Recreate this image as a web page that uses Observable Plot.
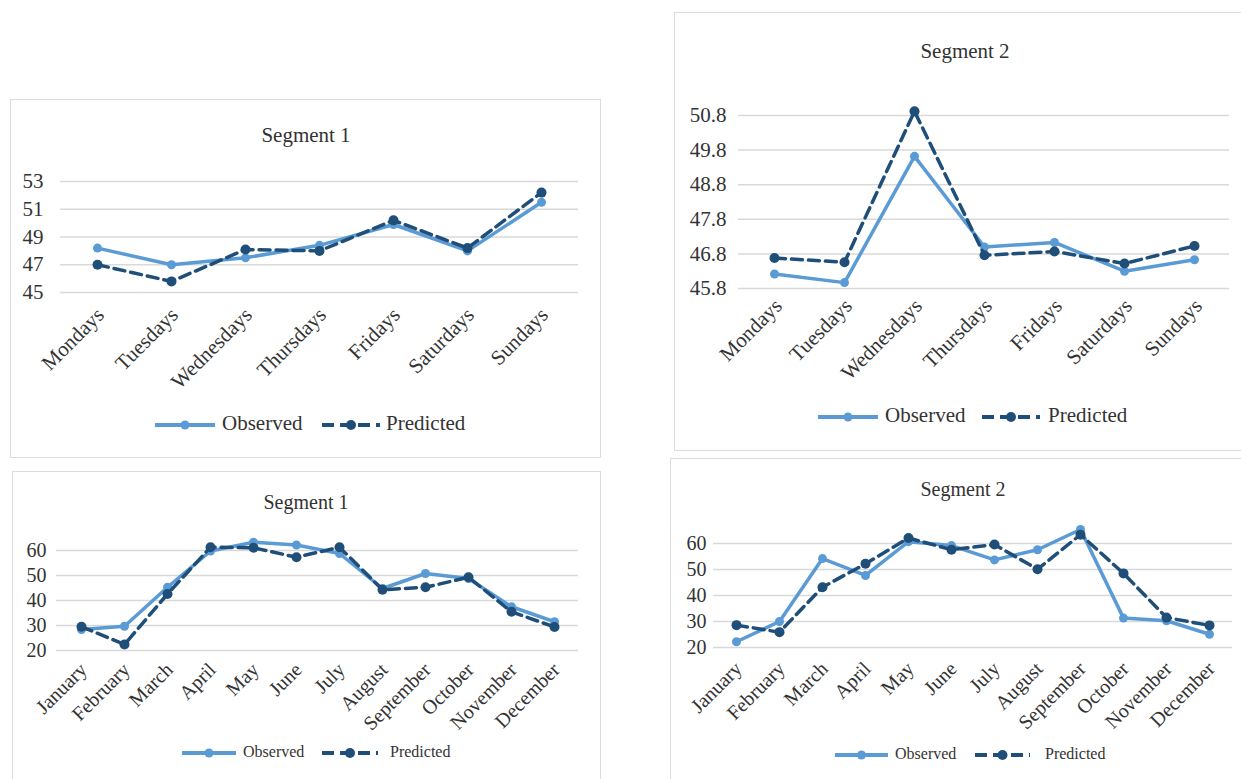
<!DOCTYPE html>
<html><head><meta charset="utf-8">
<script src="https://cdn.jsdelivr.net/npm/d3@7"></script>
<script src="https://cdn.jsdelivr.net/npm/@observablehq/plot@0.6"></script>
<style>
body{margin:0;background:#fff;}
#root{position:relative;width:1241px;height:779px;overflow:hidden;background:#fff;font-family:"Liberation Serif","Times New Roman",serif;color:#333;}
.panel{position:absolute;border:1.5px solid #dcdcdc;box-sizing:border-box;}
.title{position:absolute;text-align:center;line-height:1;white-space:nowrap;}
.plot{position:absolute;}
.lg{position:absolute;line-height:1;white-space:nowrap;}
</style></head><body><div id="root"></div>
<script>
// ---- data ----
const days = ["Mondays","Tuesdays","Wednesdays","Thursdays","Fridays","Saturdays","Sundays"];
const months = ["January","February","March","April","May","June","July","August","September","October","November","December"];

const seg1DaysObserved  = [48.2, 47.0, 47.5, 48.4, 49.9, 48.0, 51.5];
const seg1DaysPredicted = [47.0, 45.8, 48.1, 48.0, 50.2, 48.2, 52.2];
const seg1DaysTicks = [45, 47, 49, 51, 53];

const seg2DaysObserved  = [46.22, 45.97, 49.62, 47.0, 47.13, 46.3, 46.63];
const seg2DaysPredicted = [46.68, 46.56, 50.92, 46.76, 46.87, 46.52, 47.03];
const seg2DaysTicks = [45.8, 46.8, 47.8, 48.8, 49.8, 50.8];

const seg1MonthsObserved  = [28.4, 29.7, 45.3, 59.8, 63.3, 62.2, 58.8, 44.8, 50.8, 48.8, 37.5, 31.5];
const seg1MonthsPredicted = [29.5, 22.4, 42.6, 61.3, 61.1, 57.3, 61.3, 44.3, 45.3, 49.3, 35.5, 29.4];
const seg1MonthsTicks = [20, 30, 40, 50, 60];

const seg2MonthsObserved  = [22.2, 30.0, 54.2, 47.7, 60.7, 59.2, 53.7, 57.6, 65.4, 31.3, 30.3, 25.1];
const seg2MonthsPredicted = [28.6, 25.9, 43.2, 52.2, 62.1, 57.6, 59.6, 50.1, 63.4, 48.5, 31.5, 28.5];
const seg2MonthsTicks = [20, 30, 40, 50, 60];

const seriesNames = ["Observed", "Predicted"];
const titles = ["Segment 1", "Segment 2", "Segment 1", "Segment 2"];

// ---- styles ----
const OBS = "#5b9bd5", PRED = "#1f4e79", GRID = "#d9d9d9";
const DASH = "11,6";

const root = document.getElementById("root");

function el(tag, cls, css, text){
  const e = document.createElement(tag);
  if (cls) e.className = cls;
  Object.assign(e.style, css || {});
  if (text != null) e.textContent = text;
  root.appendChild(e);
  return e;
}

function legendSample(x1, x2, cy, color, dashed, r){
  const w = x2 - x1, h = 16;
  const ns = "http://www.w3.org/2000/svg";
  const s = document.createElementNS(ns, "svg");
  s.setAttribute("width", w); s.setAttribute("height", h);
  Object.assign(s.style, {position:"absolute", left:x1+"px", top:(cy-h/2)+"px"});
  const ln = document.createElementNS(ns, "line");
  ln.setAttribute("x1", 0); ln.setAttribute("x2", w);
  ln.setAttribute("y1", h/2); ln.setAttribute("y2", h/2);
  ln.setAttribute("stroke", color); ln.setAttribute("stroke-width", 4);
  if (dashed) ln.setAttribute("stroke-dasharray", "12,6");
  s.appendChild(ln);
  const c = document.createElementNS(ns, "circle");
  c.setAttribute("cx", w/2); c.setAttribute("cy", h/2); c.setAttribute("r", r);
  c.setAttribute("fill", color);
  s.appendChild(c);
  root.appendChild(s);
}

function panel(cfg){
  const {box, title, svg, cats, obs, pred, domain, ticks, fmt, lg} = cfg;
  el("div", "panel", {left:box.x+"px", top:box.y+"px", width:box.w+"px", height:box.h+"px"});
  el("div", "title", {left:(title.cx-150)+"px", width:"300px", top:(title.cy-title.size*0.55)+"px", fontSize:title.size+"px"}, title.text);

  const obsData = cats.map((c,i)=>({cat:c, v:obs[i]}));
  const predData = cats.map((c,i)=>({cat:c, v:pred[i]}));

  const chart = Plot.plot({
    width: svg.w, height: svg.h,
    marginLeft: svg.ml, marginRight: svg.mr, marginTop: svg.mt, marginBottom: svg.mb,
    style: {fontFamily: '"Liberation Serif","Times New Roman",serif', fontSize: svg.font+"px", color:"#333", background:"transparent", overflow:"visible"},
    x: {type:"point", domain: cats, padding: 0.5, label: null},
    y: {domain: domain, label: null},
    marks: [
      Plot.gridY({ticks: ticks, stroke: GRID, strokeOpacity: 1, strokeWidth: 1.5}),
      Plot.axisY({ticks: ticks, tickSize: 0, tickPadding: svg.yPad, tickFormat: fmt, label: null, fontSize: svg.font}),
      Plot.axisX({tickSize: 0, tickRotate: -45, tickPadding: svg.xPad, dx: svg.xDx || 0, label: null, fontSize: svg.xFont || svg.font}),
      Plot.line(obsData, {x:"cat", y:"v", stroke: OBS, strokeWidth: 3.5}),
      Plot.dot(obsData, {x:"cat", y:"v", r: 4.5, fill: OBS}),
      Plot.line(predData, {x:"cat", y:"v", stroke: PRED, strokeWidth: 3.5, strokeDasharray: DASH}),
      Plot.dot(predData, {x:"cat", y:"v", r: 5, fill: PRED})
    ]
  });
  chart.classList.add("plot");
  Object.assign(chart.style, {left: svg.x+"px", top: svg.y+"px"});
  root.appendChild(chart);

  legendSample(lg.obsLine[0], lg.obsLine[1], lg.y, OBS, false, 4.5);
  legendSample(lg.predLine[0], lg.predLine[1], lg.y, PRED, true, 5);
  el("div", "lg", {left: lg.obsText+"px", top:(lg.y - lg.font*0.55)+"px", fontSize: lg.font+"px"}, seriesNames[0]);
  el("div", "lg", {left: lg.predText+"px", top:(lg.y - lg.font*0.55)+"px", fontSize: lg.font+"px"}, seriesNames[1]);
}

panel({
  box:{x:10, y:99, w:591, h:359},
  title:{text:titles[0], cx:306, cy:137, size:21},
  svg:{x:10, y:160, w:591, h:250, ml:50, mr:23, mt:21, mb:118, font:21, yPad:17, xPad:19, xDx:3},
  cats: days, obs: seg1DaysObserved, pred: seg1DaysPredicted,
  domain:[45,53], ticks: seg1DaysTicks, fmt: d=>String(d),
  lg:{y:425, obsLine:[155,215], obsText:222, predLine:[322,380], predText:386, font:21}
});

panel({
  box:{x:674, y:12, w:600, h:439},
  title:{text:titles[1], cx:965, cy:53, size:21},
  svg:{x:674, y:90, w:567, h:310, ml:64, mr:12, mt:25, mb:112, font:21, yPad:12, xPad:14, xDx:4},
  cats: days, obs: seg2DaysObserved, pred: seg2DaysPredicted,
  domain:[45.8,50.8], ticks: seg2DaysTicks, fmt: d=>d.toFixed(1),
  lg:{y:417, obsLine:[818,878], obsText:885, predLine:[982,1040], predText:1048, font:21}
});

panel({
  box:{x:12, y:471, w:589, h:400},
  title:{text:titles[2], cx:306, cy:503, size:20},
  svg:{x:12, y:530, w:589, h:225, ml:44, mr:23, mt:20, mb:105, font:20, yPad:10, xPad:16, xDx:2},
  cats: months, obs: seg1MonthsObserved, pred: seg1MonthsPredicted,
  domain:[20,60], ticks: seg1MonthsTicks, fmt: d=>String(d),
  lg:{y:753, obsLine:[182,236], obsText:243, predLine:[322,378], predText:390, font:16}
});

panel({
  box:{x:670, y:458, w:600, h:400},
  title:{text:titles[3], cx:963, cy:490, size:20},
  svg:{x:670, y:520, w:571, h:235, ml:43, mr:9, mt:23, mb:108, font:20, yPad:7, xPad:18, xDx:2},
  cats: months, obs: seg2MonthsObserved, pred: seg2MonthsPredicted,
  domain:[20,60], ticks: seg2MonthsTicks, fmt: d=>String(d),
  lg:{y:755, obsLine:[835,888], obsText:895, predLine:[975,1030], predText:1045, font:16}
});
</script>
</body></html>
